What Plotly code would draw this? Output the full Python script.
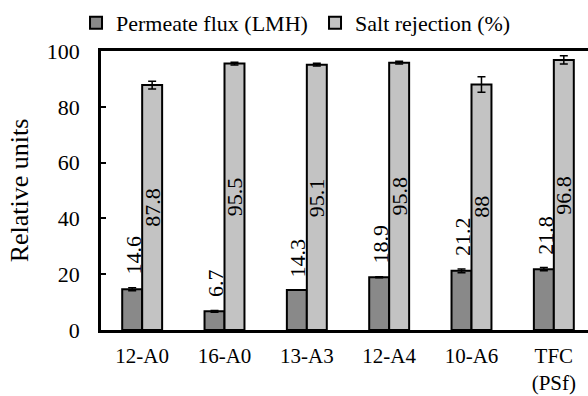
import plotly.graph_objects as go

categories = ["12-A0", "16-A0", "13-A3", "12-A4", "10-A6", "TFC<br>(PSf)"]
flux = [14.6, 6.7, 14.3, 18.9, 21.2, 21.8]
flux_err = [0.5, 0.3, 0.0, 0.2, 0.7, 0.6]
rejection = [87.8, 95.5, 95.1, 95.8, 88, 96.8]
rejection_err = [1.4, 0.5, 0.5, 0.5, 2.8, 1.5]
flux_labels = ["14.6", "6.7", "14.3", "18.9", "21.2", "21.8"]
rejection_labels = ["87.8", "95.5", "95.1", "95.8", "88", "96.8"]

FONT = "Liberation Serif"

fig = go.Figure()
fig.add_trace(go.Bar(
    name="Permeate flux (LMH)", x=categories, y=flux,
    marker=dict(color="#898989", line=dict(color="black", width=2)),
    error_y=dict(type="data", array=flux_err, color="black", thickness=1.5, width=4),
))
fig.add_trace(go.Bar(
    name="Salt rejection (%)", x=categories, y=rejection,
    marker=dict(color="#c3c3c3", line=dict(color="black", width=2)),
    error_y=dict(type="data", array=rejection_err, color="black", thickness=1.5, width=4),
))

for c, v, e, t in zip(categories, flux, flux_err, flux_labels):
    fig.add_annotation(x=c, y=v + e, text=t, textangle=-90, showarrow=False,
                       xanchor="center", yanchor="bottom", xshift=-9, yshift=11,
                       font=dict(family=FONT, size=22, color="black"))
for c, v, t in zip(categories, rejection, rejection_labels):
    fig.add_annotation(x=c, y=v / 2, text=t, textangle=-90, showarrow=False,
                       xanchor="center", yanchor="middle", xshift=10,
                       font=dict(family=FONT, size=22, color="black"))

fig.update_layout(
    width=588, height=396,
    margin=dict(l=101, r=0, t=51, b=66, autoexpand=False),
    paper_bgcolor="white", plot_bgcolor="white",
    barmode="group", bargap=0.515, bargroupgap=0,
    font=dict(family=FONT, size=22, color="black"),
    showlegend=True,
    legend=dict(orientation="h", x=-0.0513, xanchor="left", y=1.025, yanchor="bottom",
                font=dict(family=FONT, size=22, color="black"), entrywidth=194,
                tracegroupgap=0, bgcolor="rgba(0,0,0,0)"),
    xaxis=dict(type="category", range=[-0.5, 5.415], showline=True, linecolor="black",
               linewidth=2.5, mirror=True, ticks="", showgrid=False,
               tickfont=dict(family=FONT, size=21, color="black"), ticklabelstandoff=5),
    yaxis=dict(range=[0, 100], tickvals=[0, 20, 40, 60, 80, 100], showline=True,
               linecolor="black", linewidth=2.5, ticks="inside", ticklen=5, tickwidth=2,
               tickcolor="black", showgrid=False, zeroline=False,
               tickfont=dict(family=FONT, size=22, color="black"), ticklabelstandoff=14,
               title=dict(text="Relative units", font=dict(family=FONT, size=26, color="black"),
                          standoff=11)),
)
fig.write_html("out.html", post_script="document.body.style.margin='0';",
               config={"displayModeBar": False})
